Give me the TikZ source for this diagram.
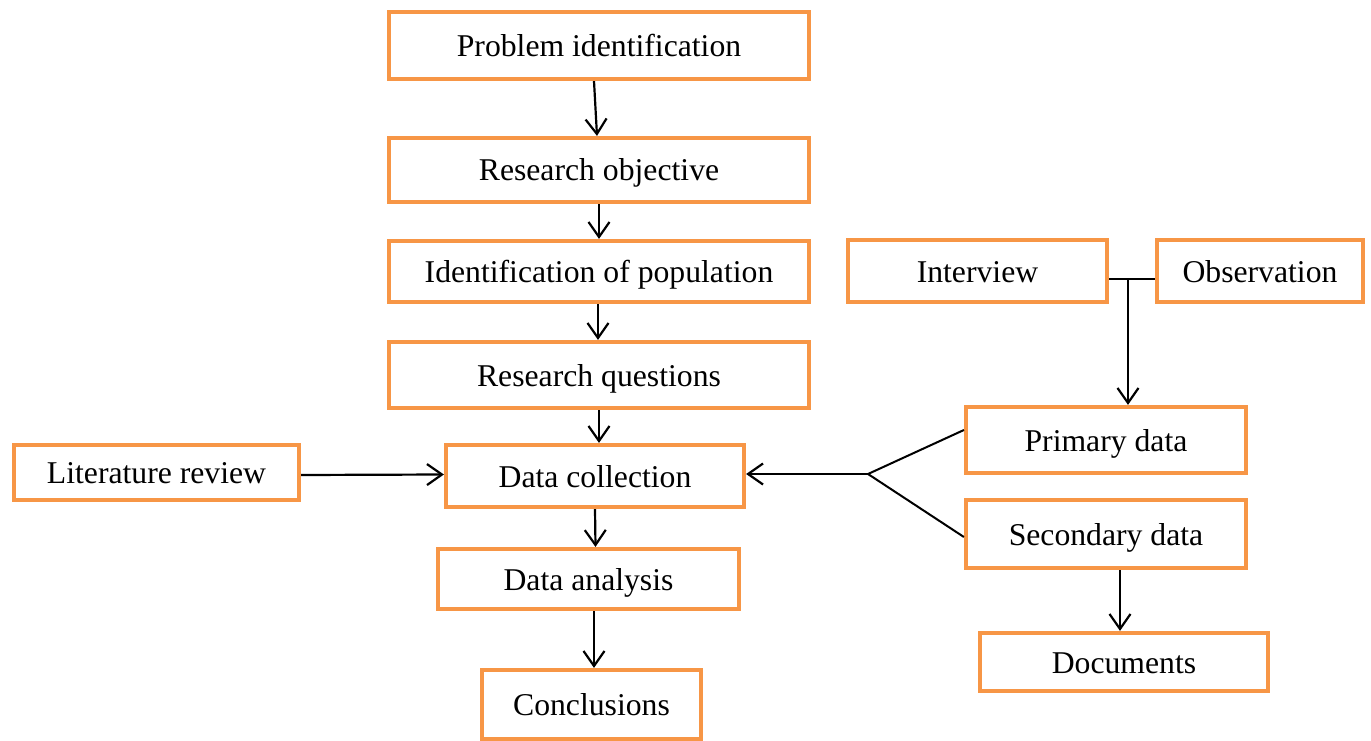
\documentclass[tikz,border=0pt]{standalone}
\usepackage{fontspec}
\setmainfont{Liberation Serif}
\usetikzlibrary{arrows.meta}
\definecolor{boxorange}{HTML}{F79646}
\begin{document}
\begin{tikzpicture}[x=1pt,y=-1pt,
  box/.style={draw=boxorange,line width=4.2pt,fill=white,inner sep=0pt,
    text height=22pt,text depth=0pt,
    font=\fontsize{31.7}{36}\selectfont,text=black},
  arr/.style={line width=2.2pt,-{Straight Barb[length=15pt,width=21pt,line width=2.2pt]}},
  ln/.style={line width=2pt}]
\useasboundingbox (0,0) rectangle (1371,741);
\node[box,minimum width=420pt,minimum height=67pt] (PI) at (599,45.5) {Problem identification};
\node[box,minimum width=420pt,minimum height=64pt] (RO) at (599,170) {Research objective};
\node[box,minimum width=420pt,minimum height=61pt] (IP) at (599,271.5) {Identification of population};
\node[box,minimum width=420pt,minimum height=66pt] (RQ) at (599,375) {Research questions};
\node[box,minimum width=285pt,minimum height=55pt] (LR) at (156.5,472.5) {Literature review};
\node[box,minimum width=298pt,minimum height=62pt] (DC) at (595,476) {Data collection};
\node[box,minimum width=301pt,minimum height=60pt] (DA) at (588.5,579) {Data analysis};
\node[box,minimum width=219pt,minimum height=69pt] (CO) at (591.5,704.5) {Conclusions};
\node[box,minimum width=259pt,minimum height=62pt] (IV) at (977.5,271) {Interview};
\node[box,minimum width=206pt,minimum height=62pt] (OB) at (1260,271) {Observation};
\node[box,minimum width=280pt,minimum height=66pt] (PD) at (1106,440) {Primary data};
\node[box,minimum width=280pt,minimum height=68pt] (SD) at (1106,534) {Secondary data};
\node[box,minimum width=288pt,minimum height=58pt] (DO) at (1124,662) {Documents};
% main chain
\draw[arr] ([xshift=-5pt]PI.south) -- ([xshift=-2pt]RO.north);
\draw[arr] (RO.south) -- (IP.north);
\draw[arr] ([xshift=-1pt]IP.south) -- ([xshift=-1pt]RQ.north);
\draw[arr] (RQ.south) -- ([xshift=4pt]DC.north);
\draw[arr] (DC.south) -- ([xshift=7pt]DA.north);
\draw[arr] ([xshift=5.5pt]DA.south) -- ([xshift=2.5pt]CO.north);
\draw[arr] ([yshift=-2.5pt]LR.east) -- ([yshift=1.5pt]DC.west);
% interview / observation
\coordinate (J) at (1128,279);
\draw[ln] ([yshift=-8pt]IV.east) -- ([yshift=-8pt]OB.west);
\draw[arr] (J) -- (J |- PD.north);
% branch
\coordinate (B) at (868,474);
\draw[ln] ([yshift=10pt]PD.west) -- (B) -- ([yshift=-3pt]SD.west);
\draw[arr] (B) -- ([yshift=2pt]DC.east);
% secondary -> documents
\coordinate (S) at (1120,0);
\draw[arr] (S |- SD.south) -- (S |- DO.north);
\end{tikzpicture}
\end{document}
